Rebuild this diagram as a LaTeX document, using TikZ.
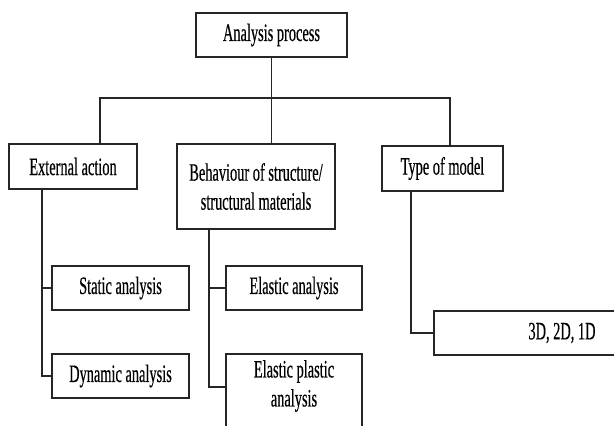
\documentclass[tikz,border=0pt]{standalone}
\usepackage{fontspec}
\setmainfont[FakeStretch=0.575,FakeBold=0.4]{Liberation Serif}
\begin{document}
\begin{tikzpicture}[x=1pt,y=-1pt,
  box/.style={draw=black!85,line width=1.3pt,rectangle,inner sep=0pt,align=center,
    font=\fontsize{25}{29}\selectfont},
  conn/.style={draw=black!85,line width=1.3pt},
  txt/.style={inner sep=0pt,align=center,font=\fontsize{25}{29}\selectfont}]
\useasboundingbox (0,0) rectangle (614,426);
\clip (0,0) rectangle (614,426);
\node[box,minimum width=151pt,minimum height=44pt] (top) at (271.5,35) {Analysis process};
\node[box,minimum width=128pt,minimum height=45pt] (ext) at (73,166.5) {External action};
\node[box,minimum width=158pt,minimum height=85pt] (beh) at (256,186.5) {Behaviour of structure/\\structural materials};
\node[box,minimum width=121pt,minimum height=45pt] (type) at (442.5,168.5) {Type of model};
\node[box,minimum width=137pt,minimum height=44pt] (static) at (120.5,288) {Static analysis};
\node[box,minimum width=137pt,minimum height=44pt] (dyn) at (120.5,376) {Dynamic analysis};
\node[box,minimum width=136pt,minimum height=44pt] (elastic) at (294,288) {Elastic analysis};
\node[box,minimum width=136pt,minimum height=90pt] (ep) at (294,399) {};
\node[txt] (eptext) at (294,386) {Elastic plastic\\analysis};
\node[box,minimum width=256pt,minimum height=44pt] (d3) at (562,333) {3D, 2D, 1D};
\coordinate (jl) at (100,98);
\coordinate (jr) at (450,98);
\coordinate (epb) at (226,387);
\draw[conn] (top.south) -- (top.south |- beh.north);
\draw[conn] (jl |- ext.north) -- (jl) -- (jr) -- (jr |- type.north);
\draw[conn] ([xshift=-31pt]ext.south) |- (dyn.west);
\draw[conn] ([xshift=-31pt]ext.south |- static.west) -- (static.west);
\draw[conn] ([xshift=-47pt]beh.south) |- (epb);
\draw[conn] ([xshift=-47pt]beh.south |- elastic.west) -- (elastic.west);
\draw[conn] ([xshift=-31.5pt]type.south) |- (d3.west);
\end{tikzpicture}
\end{document}
